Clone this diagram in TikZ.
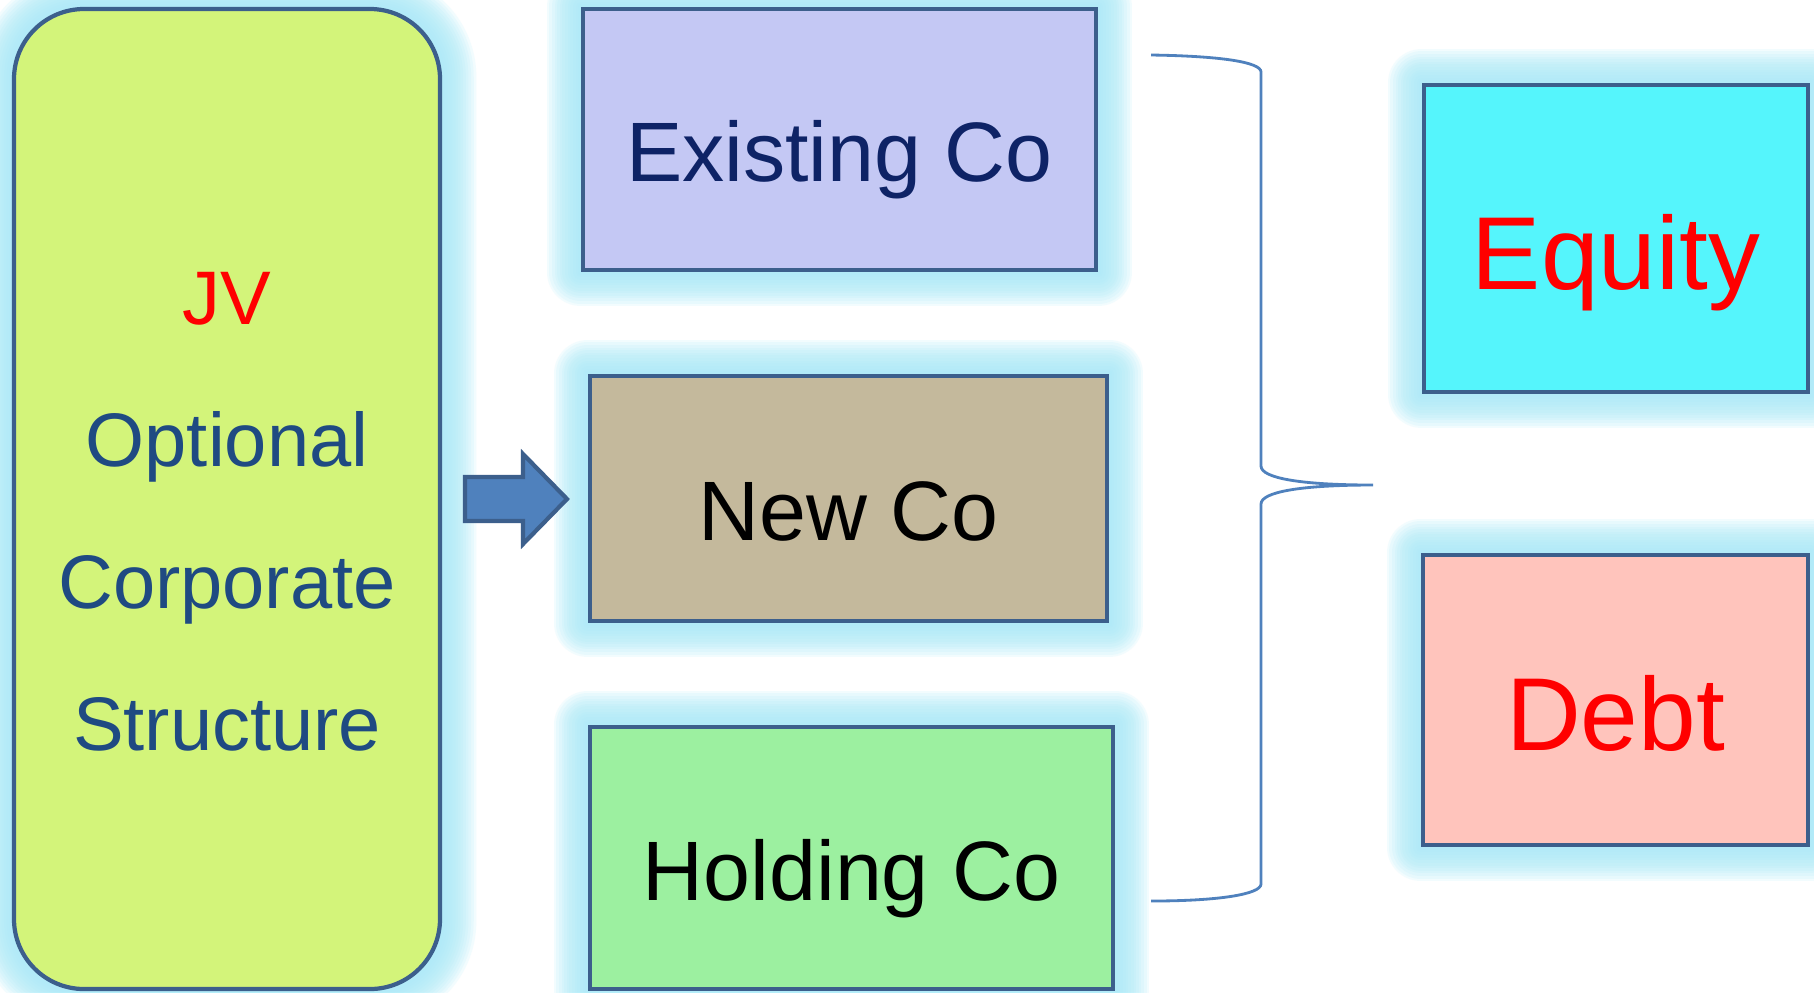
\documentclass[tikz,border=0pt]{standalone}
\usepackage{fontspec}
\setmainfont{Liberation Sans}
\usetikzlibrary{positioning, backgrounds}

\definecolor{jvfill}{HTML}{D3F47A}
\definecolor{existfill}{HTML}{C4C8F4}
\definecolor{newfill}{HTML}{C4B99C}
\definecolor{holdfill}{HTML}{9CF0A0}
\definecolor{eqfill}{HTML}{55F5FC}
\definecolor{debtfill}{HTML}{FFC4BC}
\definecolor{edgec}{HTML}{3C5F8C}
\definecolor{glowc}{HTML}{A8EAF8}
\definecolor{navy}{HTML}{0E2366}
\definecolor{jvblue}{HTML}{1F4A82}
\definecolor{arrowc}{HTML}{4F81BD}

\newcommand{\glowbox}[2]{%
  \foreach \w in {1.5,3,...,19.5}
    \draw [glowc, line width=\w pt, opacity=0.14, line join=round, rounded corners=#2]
      (#1.south west) rectangle (#1.north east);
}

\tikzset{
  cobox/.style={draw=edgec, line width=1.2pt, minimum width=#1},
  cotext/.style={font=\fontsize{24}{28}\selectfont, text height=24pt, text depth=0pt},
  bigtext/.style={font=\fontsize{29.5}{34}\selectfont, text height=29pt, text depth=0pt, text=red}
}

\begin{document}
\begin{tikzpicture}[>=latex]
  \useasboundingbox (0,0) rectangle (18.14,-9.92);

  \node (jv) at (2.27,-4.99) [cobox=4.26cm, minimum height=9.80cm, rounded corners=0.7cm,
    fill=jvfill] {};
  \node (jvtext) at ([yshift=-0.13cm]jv.center) [align=center, text=jvblue,
    font=\fontsize{21.6}{40.4}\selectfont] {\textcolor{red}{JV}\\Optional\\Corporate\\Structure};

  \node (exist) at (8.395,-1.395) [cobox=5.13cm, minimum height=2.61cm, fill=existfill,
    cotext, text=navy] {Existing Co};
  \node (newco) at (8.485,-4.985) [cobox=5.17cm, minimum height=2.45cm, fill=newfill,
    cotext] {New Co};
  \node (hold) at (8.515,-8.58) [cobox=5.23cm, minimum height=2.62cm, fill=holdfill,
    cotext] {Holding Co};

  \node (equity) at (16.16,-2.385) [cobox=3.84cm, minimum height=3.07cm, fill=eqfill,
    bigtext] {Equity};
  \node (debt) at (16.155,-7.0) [cobox=3.85cm, minimum height=2.90cm, fill=debtfill,
    bigtext] {Debt};

  \begin{scope}[on background layer]
    \fill [white] (0,0) rectangle (18.14,-9.92);
    \glowbox{jv}{0.7cm}
    \glowbox{exist}{0pt}
    \glowbox{newco}{0pt}
    \glowbox{hold}{0pt}
    \glowbox{equity}{0pt}
    \glowbox{debt}{0pt}
  \end{scope}

  % block arrow
  \draw [fill=arrowc, draw=edgec, line width=1.2pt, line join=miter]
    (4.65,-4.77) -- (5.23,-4.77) -- (5.23,-4.54) -- (5.67,-4.99)
    -- (5.23,-5.44) -- (5.23,-5.21) -- (4.65,-5.21) -- cycle;

  % brace
  \coordinate (btop) at (11.51,-0.55);
  \coordinate (btip) at (13.73,-4.85);
  \coordinate (bbot) at (11.51,-9.01);
  \draw [arrowc, line width=0.8pt]
    (btop) .. controls (12.2,-0.56) and (12.61,-0.62) .. (12.61,-0.72)
    -- (12.61,-4.66) .. controls (12.61,-4.78) and (13.0,-4.85) .. (btip)
    .. controls (13.0,-4.85) and (12.61,-4.92) .. (12.61,-5.04)
    -- (12.61,-8.84) .. controls (12.61,-8.94) and (12.2,-9.01) .. (bbot);
\end{tikzpicture}
\end{document}
